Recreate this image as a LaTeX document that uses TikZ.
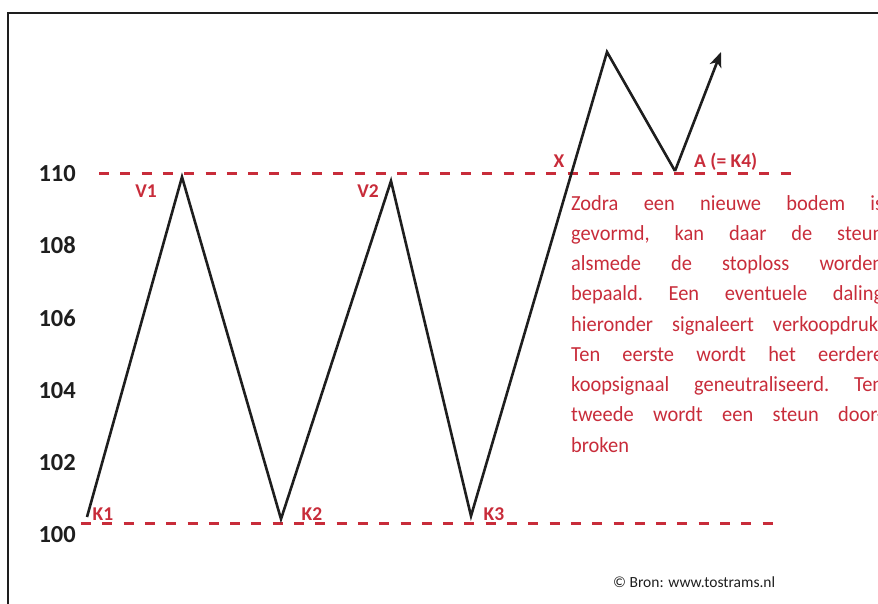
\documentclass[tikz,border=0pt]{standalone}
\usepackage{fontspec}
\setmainfont{Carlito}
\newfontfamily\uitlegfont[FakeStretch=0.95]{Carlito}
\usetikzlibrary{arrows.meta}

\definecolor{rood}{RGB}{200,44,58}
\definecolor{zwart}{RGB}{30,30,30}

\tikzset{
  steun/.style={rood, line width=3pt, dash pattern=on 10pt off 11.3pt},
  koers/.style={zwart, line width=2.6pt},
  punt/.style={rood, font=\bfseries\fontsize{19.5}{19.5}\selectfont, inner sep=0pt, anchor=base},
  schaal/.style={zwart, font=\bfseries\fontsize{24.5}{24.5}\selectfont, inner sep=0pt, anchor=base east}
}

\begin{document}
\begin{tikzpicture}[x=1pt,y=-1pt]
\useasboundingbox (0,0) rectangle (878,604);

% frame
\draw [zwart, line width=2.5pt] (8,604)--(8,13)--(878,13);

% koers-as
\node (s110) [schaal] at (76,182) {110};
\node (s108) [schaal] at (76,254) {108};
\node (s106) [schaal] at (76,326) {106};
\node (s104) [schaal] at (76,398) {104};
\node (s102) [schaal] at (76,470) {102};
\node (s100) [schaal] at (76,542) {100};

% weerstand en steun
\draw [steun] (99,174)--(792,174);
\draw [steun] (81,523)--(775,523);

% toppen en bodems
\coordinate (k1) at (87,517);
\coordinate (v1) at (182,177);
\coordinate (k2) at (281,519);
\coordinate (v2) at (391,181);
\coordinate (k3) at (471,516);
\coordinate (top) at (607,52);
\coordinate (k4) at (675,171);
\coordinate (verder) at (721,52);

\draw [koers] (k1)--(v1)--(k2)--(v2)--(k3)--(top)--(k4);
\draw [koers, -{Stealth[length=15pt, width=12pt, inset=4pt]}] (k4)--(verder);

% labels
\node (lv1) [punt] at (146,198) {V1};
\node (lv2) [punt] at (368,198) {V2};
\node (lk1) [punt] at (103,520) {K1};
\node (lk2) [punt] at (312,520) {K2};
\node (lk3) [punt] at (494,520) {K3};
\node (lx) [punt] at (559,168) {X};
\node (lk4) [punt, anchor=base west] at (694,168) {A (= K4)};

% uitleg
\node (uitleg) [rood, anchor=north west, inner sep=0pt, text width=312pt, align=justify,
  font=\uitlegfont\fontsize{21.5}{30.25}\selectfont\frenchspacing] at (571,195)
  {Zodra een nieuwe bodem is\linebreak
   gevormd, kan daar de steun\linebreak
   alsmede de stoploss worden\linebreak
   bepaald. Een eventuele daling\linebreak
   hieronder signaleert verkoopdruk.\linebreak
   Ten eerste wordt het eerdere\linebreak
   koopsignaal geneutraliseerd. Ten\linebreak
   tweede wordt een steun door-\linebreak
   broken};

% bron
\node (bron) [zwart, anchor=base west, inner sep=0pt, font=\fontsize{15.5}{15.5}\selectfont]
  at (613,587) {\textcopyright{} Bron: www.tostrams.nl};

\end{tikzpicture}
\end{document}
